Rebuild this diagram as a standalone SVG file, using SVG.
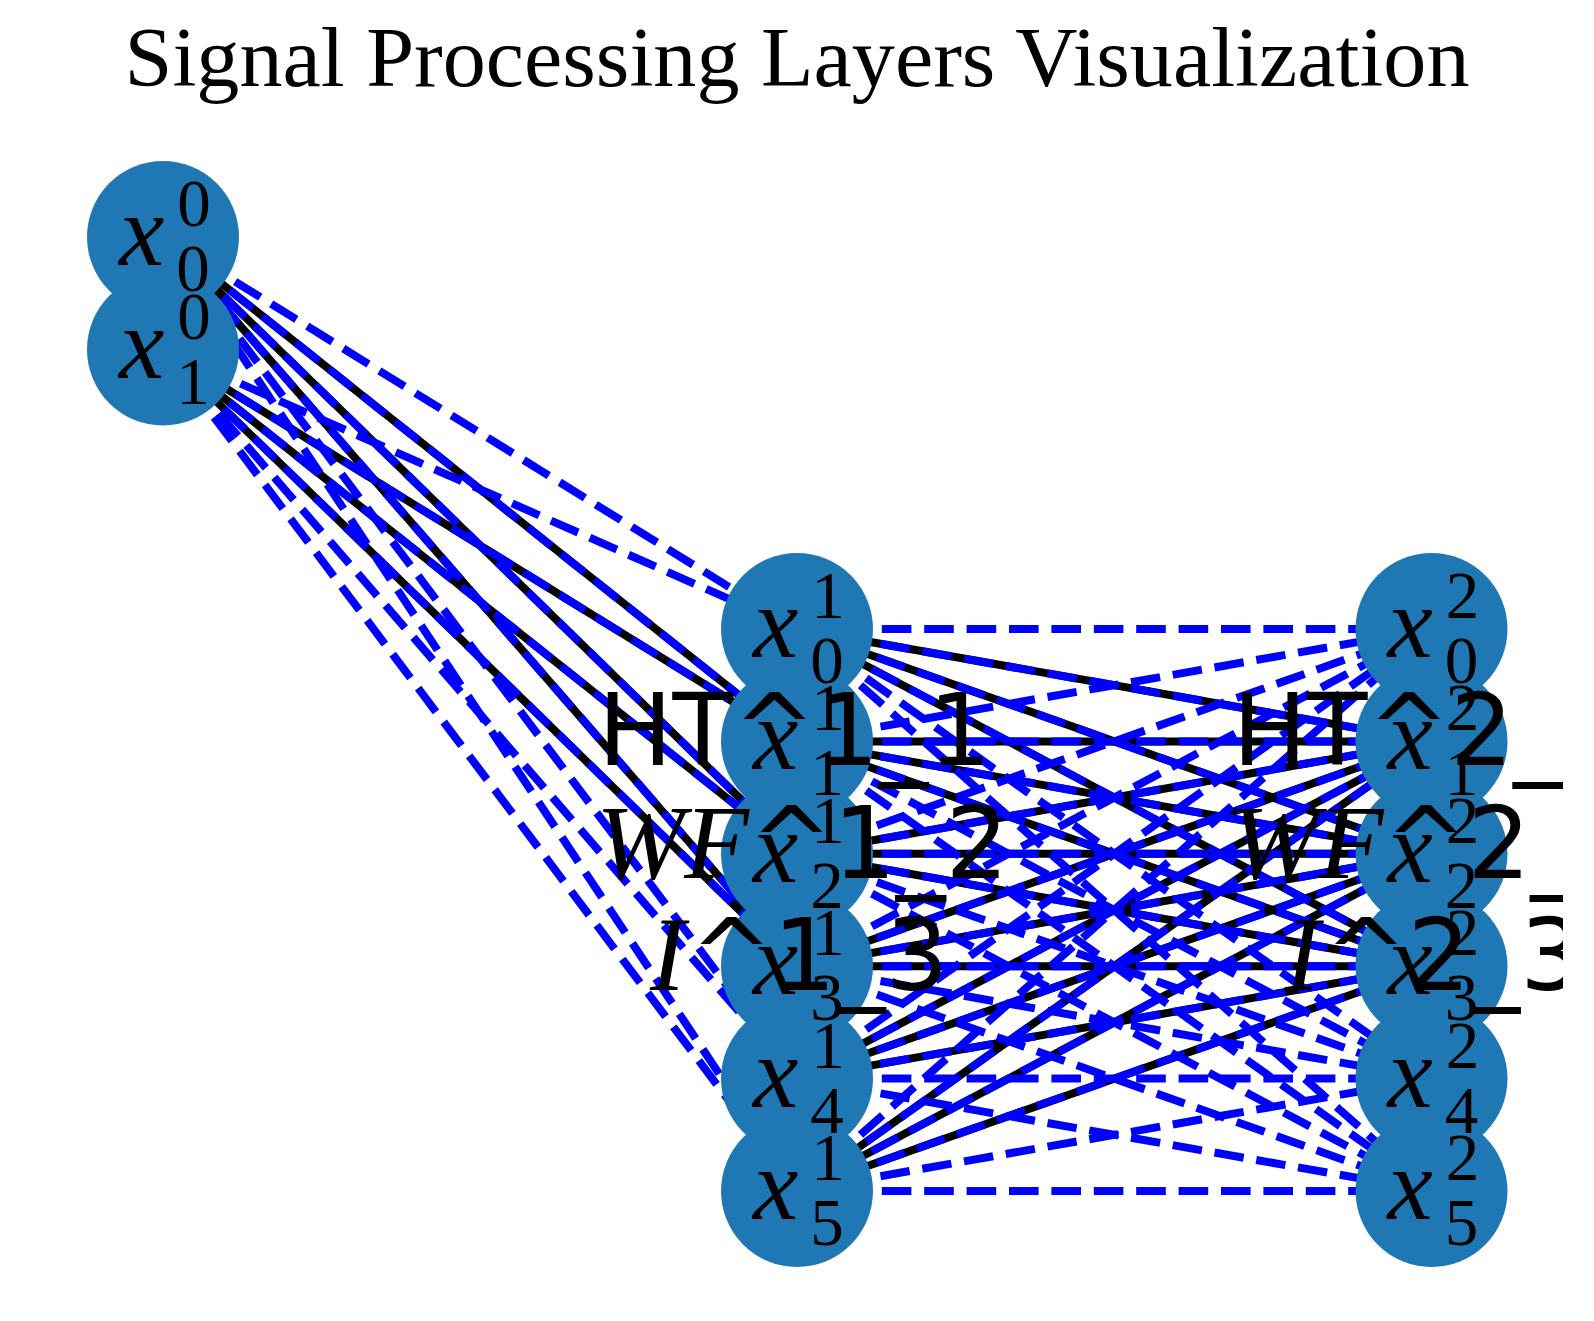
<svg xmlns="http://www.w3.org/2000/svg" width="1594" height="1321" viewBox="0 0 1594 1321">
<style>
.k{stroke:#000;stroke-width:8;fill:none}
.b{stroke:#0000ff;stroke-width:8;stroke-dasharray:29.6 12.8;fill:none}
.n{fill:#1f77b4}
.mx{font-family:"Liberation Serif",serif;font-style:italic;font-size:102px;fill:#000}
.md{font-family:"Liberation Serif",serif;font-size:67px;fill:#000;text-anchor:middle}
.lab{font-family:"DejaVu Sans",sans-serif;font-size:99px;fill:#000}
.it{font-family:"Liberation Serif",serif;font-style:italic;font-size:106px}
.title{font-family:"Liberation Serif",serif;font-size:84px;fill:#000;text-anchor:middle}
</style>
<defs>
<clipPath id="canvas"><rect x="0" y="0" width="1563" height="1321"/></clipPath>
</defs>
<rect width="1594" height="1321" fill="#fff"/>
<text class="title" x="797" y="86" textLength="1345" lengthAdjust="spacingAndGlyphs">Signal Processing Layers Visualization</text>
<g id="edges">
<g id="edges-solid">
<line class="k" x1="163" y1="237" x2="797" y2="741.4"/>
<line class="k" x1="163" y1="237" x2="797" y2="853.8"/>
<line class="k" x1="163" y1="237" x2="797" y2="966.2"/>
<line class="k" x1="163" y1="349.5" x2="797" y2="741.4"/>
<line class="k" x1="163" y1="349.5" x2="797" y2="853.8"/>
<line class="k" x1="163" y1="349.5" x2="797" y2="966.2"/>
<line class="k" x1="797" y1="629" x2="1431.5" y2="741.4"/>
<line class="k" x1="797" y1="629" x2="1431.5" y2="853.8"/>
<line class="k" x1="797" y1="629" x2="1431.5" y2="966.2"/>
<line class="k" x1="797" y1="741.4" x2="1431.5" y2="741.4"/>
<line class="k" x1="797" y1="741.4" x2="1431.5" y2="853.8"/>
<line class="k" x1="797" y1="741.4" x2="1431.5" y2="966.2"/>
<line class="k" x1="797" y1="853.8" x2="1431.5" y2="741.4"/>
<line class="k" x1="797" y1="853.8" x2="1431.5" y2="853.8"/>
<line class="k" x1="797" y1="853.8" x2="1431.5" y2="966.2"/>
<line class="k" x1="797" y1="966.2" x2="1431.5" y2="741.4"/>
<line class="k" x1="797" y1="966.2" x2="1431.5" y2="853.8"/>
<line class="k" x1="797" y1="966.2" x2="1431.5" y2="966.2"/>
<line class="k" x1="797" y1="1078.6" x2="1431.5" y2="741.4"/>
<line class="k" x1="797" y1="1078.6" x2="1431.5" y2="853.8"/>
<line class="k" x1="797" y1="1078.6" x2="1431.5" y2="966.2"/>
<line class="k" x1="797" y1="1191" x2="1431.5" y2="741.4"/>
<line class="k" x1="797" y1="1191" x2="1431.5" y2="853.8"/>
<line class="k" x1="797" y1="1191" x2="1431.5" y2="966.2"/>
</g>
<g id="edges-dashed">
<line class="b" x1="163" y1="237" x2="797" y2="629"/>
<line class="b" x1="163" y1="237" x2="797" y2="741.4"/>
<line class="b" x1="163" y1="237" x2="797" y2="853.8"/>
<line class="b" x1="163" y1="237" x2="797" y2="966.2"/>
<line class="b" x1="163" y1="237" x2="797" y2="1078.6"/>
<line class="b" x1="163" y1="237" x2="797" y2="1191"/>
<line class="b" x1="163" y1="349.5" x2="797" y2="629"/>
<line class="b" x1="163" y1="349.5" x2="797" y2="741.4"/>
<line class="b" x1="163" y1="349.5" x2="797" y2="853.8"/>
<line class="b" x1="163" y1="349.5" x2="797" y2="966.2"/>
<line class="b" x1="163" y1="349.5" x2="797" y2="1078.6"/>
<line class="b" x1="163" y1="349.5" x2="797" y2="1191"/>
<line class="b" x1="797" y1="629" x2="1431.5" y2="629"/>
<line class="b" x1="797" y1="629" x2="1431.5" y2="741.4"/>
<line class="b" x1="797" y1="629" x2="1431.5" y2="853.8"/>
<line class="b" x1="797" y1="629" x2="1431.5" y2="966.2"/>
<line class="b" x1="797" y1="629" x2="1431.5" y2="1078.6"/>
<line class="b" x1="797" y1="629" x2="1431.5" y2="1191"/>
<line class="b" x1="797" y1="741.4" x2="1431.5" y2="629"/>
<line class="b" x1="797" y1="741.4" x2="1431.5" y2="741.4"/>
<line class="b" x1="797" y1="741.4" x2="1431.5" y2="853.8"/>
<line class="b" x1="797" y1="741.4" x2="1431.5" y2="966.2"/>
<line class="b" x1="797" y1="741.4" x2="1431.5" y2="1078.6"/>
<line class="b" x1="797" y1="741.4" x2="1431.5" y2="1191"/>
<line class="b" x1="797" y1="853.8" x2="1431.5" y2="629"/>
<line class="b" x1="797" y1="853.8" x2="1431.5" y2="741.4"/>
<line class="b" x1="797" y1="853.8" x2="1431.5" y2="853.8"/>
<line class="b" x1="797" y1="853.8" x2="1431.5" y2="966.2"/>
<line class="b" x1="797" y1="853.8" x2="1431.5" y2="1078.6"/>
<line class="b" x1="797" y1="853.8" x2="1431.5" y2="1191"/>
<line class="b" x1="797" y1="966.2" x2="1431.5" y2="629"/>
<line class="b" x1="797" y1="966.2" x2="1431.5" y2="741.4"/>
<line class="b" x1="797" y1="966.2" x2="1431.5" y2="853.8"/>
<line class="b" x1="797" y1="966.2" x2="1431.5" y2="966.2"/>
<line class="b" x1="797" y1="966.2" x2="1431.5" y2="1078.6"/>
<line class="b" x1="797" y1="966.2" x2="1431.5" y2="1191"/>
<line class="b" x1="797" y1="1078.6" x2="1431.5" y2="629"/>
<line class="b" x1="797" y1="1078.6" x2="1431.5" y2="741.4"/>
<line class="b" x1="797" y1="1078.6" x2="1431.5" y2="853.8"/>
<line class="b" x1="797" y1="1078.6" x2="1431.5" y2="966.2"/>
<line class="b" x1="797" y1="1078.6" x2="1431.5" y2="1078.6"/>
<line class="b" x1="797" y1="1078.6" x2="1431.5" y2="1191"/>
<line class="b" x1="797" y1="1191" x2="1431.5" y2="629"/>
<line class="b" x1="797" y1="1191" x2="1431.5" y2="741.4"/>
<line class="b" x1="797" y1="1191" x2="1431.5" y2="853.8"/>
<line class="b" x1="797" y1="1191" x2="1431.5" y2="966.2"/>
<line class="b" x1="797" y1="1191" x2="1431.5" y2="1078.6"/>
<line class="b" x1="797" y1="1191" x2="1431.5" y2="1191"/>
</g>
</g>
<g id="nodes">
<g id="n0_0"><circle class="n" cx="163" cy="237" r="76"/></g>
<g id="n0_1"><circle class="n" cx="163" cy="349.5" r="76"/></g>
<g id="n1_0"><circle class="n" cx="797" cy="629" r="76"/></g>
<g id="n1_1"><circle class="n" cx="797" cy="741.4" r="76"/></g>
<g id="n1_2"><circle class="n" cx="797" cy="853.8" r="76"/></g>
<g id="n1_3"><circle class="n" cx="797" cy="966.2" r="76"/></g>
<g id="n1_4"><circle class="n" cx="797" cy="1078.6" r="76"/></g>
<g id="n1_5"><circle class="n" cx="797" cy="1191" r="76"/></g>
<g id="n2_0"><circle class="n" cx="1431.5" cy="629" r="76"/></g>
<g id="n2_1"><circle class="n" cx="1431.5" cy="741.4" r="76"/></g>
<g id="n2_2"><circle class="n" cx="1431.5" cy="853.8" r="76"/></g>
<g id="n2_3"><circle class="n" cx="1431.5" cy="966.2" r="76"/></g>
<g id="n2_4"><circle class="n" cx="1431.5" cy="1078.6" r="76"/></g>
<g id="n2_5"><circle class="n" cx="1431.5" cy="1191" r="76"/></g>
</g>
<g id="node-labels">
<g><text class="mx" x="119" y="265">x</text><text class="md" x="194" y="226">0</text><text class="md" x="193" y="291">0</text></g>
<g><text class="mx" x="119" y="377.5">x</text><text class="md" x="194" y="338.5">0</text><text class="md" x="193" y="403.5">1</text></g>
<g><text class="mx" x="753" y="657">x</text><text class="md" x="828" y="618">1</text><text class="md" x="827" y="683">0</text></g>
<g><text class="mx" x="753" y="769.4">x</text><text class="md" x="828" y="730.4">1</text><text class="md" x="827" y="795.4">1</text></g>
<g><text class="mx" x="753" y="881.8">x</text><text class="md" x="828" y="842.8">1</text><text class="md" x="827" y="907.8">2</text></g>
<g><text class="mx" x="753" y="994.2">x</text><text class="md" x="828" y="955.2">1</text><text class="md" x="827" y="1020.2">3</text></g>
<g><text class="mx" x="753" y="1106.6">x</text><text class="md" x="828" y="1067.6">1</text><text class="md" x="827" y="1132.6">4</text></g>
<g><text class="mx" x="753" y="1219">x</text><text class="md" x="828" y="1180">1</text><text class="md" x="827" y="1245">5</text></g>
<g><text class="mx" x="1387.5" y="657">x</text><text class="md" x="1462.5" y="618">2</text><text class="md" x="1461.5" y="683">0</text></g>
<g><text class="mx" x="1387.5" y="769.4">x</text><text class="md" x="1462.5" y="730.4">2</text><text class="md" x="1461.5" y="795.4">1</text></g>
<g><text class="mx" x="1387.5" y="881.8">x</text><text class="md" x="1462.5" y="842.8">2</text><text class="md" x="1461.5" y="907.8">2</text></g>
<g><text class="mx" x="1387.5" y="994.2">x</text><text class="md" x="1462.5" y="955.2">2</text><text class="md" x="1461.5" y="1020.2">3</text></g>
<g><text class="mx" x="1387.5" y="1106.6">x</text><text class="md" x="1462.5" y="1067.6">2</text><text class="md" x="1461.5" y="1132.6">4</text></g>
<g><text class="mx" x="1387.5" y="1219">x</text><text class="md" x="1462.5" y="1180">2</text><text class="md" x="1461.5" y="1245">5</text></g>
</g>
<g id="layer-labels" clip-path="url(#canvas)">
<text class="lab" x="598" y="765">HT^1_1</text>
<text class="lab" x="596" y="878"><tspan class="it">WF</tspan><tspan x="750">^1_2</tspan></text>
<text class="lab" x="650" y="990"><tspan class="it">I</tspan><tspan x="690">^1_3</tspan></text>
<text class="lab" x="1232.5" y="765">HT^2_1</text>
<text class="lab" x="1230.5" y="878"><tspan class="it">WF</tspan><tspan x="1384.5">^2_2</tspan></text>
<text class="lab" x="1284.5" y="990"><tspan class="it">I</tspan><tspan x="1324.5">^2_3</tspan></text>
</g>
</svg>
